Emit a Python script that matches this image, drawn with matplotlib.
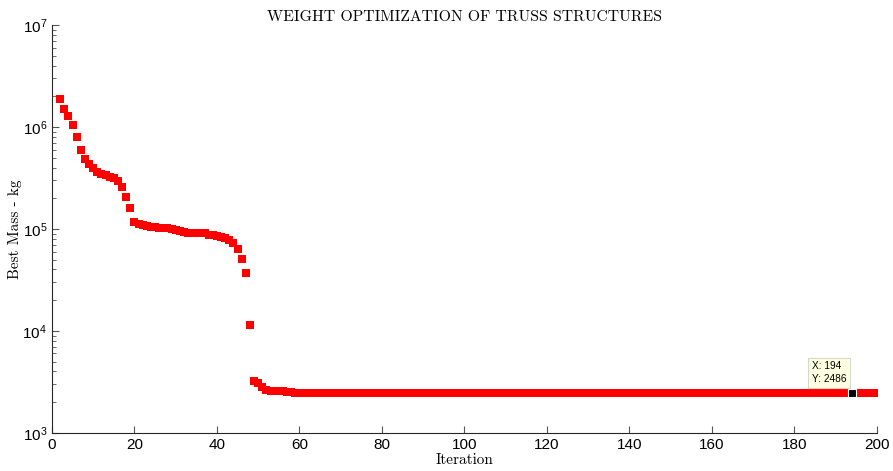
import numpy as np
import matplotlib
matplotlib.use('Agg')
import matplotlib.pyplot as plt

# best mass per iteration
iter_start = [2, 3, 4, 5, 6, 7, 8, 9, 10, 11, 12, 13, 14, 15, 16, 17, 18, 19, 20,
              21, 22, 23, 24, 25, 26, 27, 28, 29, 30, 31, 32, 33, 34, 35, 36, 37, 38,
              39, 40, 41, 42, 43, 44, 45, 46, 47, 48, 49, 50, 51, 52, 53, 54, 55, 56,
              57, 58]
mass_start = [1.9e6, 1.5e6, 1.27e6, 1.05e6, 8.0e5, 6.0e5, 4.9e5, 4.3e5, 4.0e5, 3.6e5,
              3.45e5, 3.35e5, 3.25e5, 3.15e5, 2.95e5, 2.6e5, 2.05e5, 1.6e5, 1.17e5,
              1.12e5, 1.09e5, 1.07e5, 1.05e5, 1.04e5, 1.03e5, 1.02e5, 1.01e5, 1.0e5,
              9.8e4, 9.6e4, 9.3e4, 9.2e4, 9.15e4, 9.1e4, 9.1e4, 9.05e4, 8.8e4, 8.7e4,
              8.6e4, 8.4e4, 8.2e4, 7.7e4, 7.2e4, 6.4e4, 5.1e4, 3.7e4, 1.15e4, 3.2e3,
              3.1e3, 2.8e3, 2.65e3, 2.6e3, 2.58e3, 2.56e3, 2.55e3, 2.54e3, 2.52e3]
iter_plateau = list(range(59, 201))
mass_plateau = [2486] * len(iter_plateau)

iterations = iter_start + iter_plateau
best_mass = mass_start + mass_plateau

tip_x = 194
tip_y = 2486

fig = plt.figure(figsize=(8.93, 4.71), dpi=100)
ax = fig.add_axes([0.0582, 0.081, 0.9238, 0.866])

ax.plot(iterations, best_mass, 's', color='red', markersize=6, markeredgewidth=0)
ax.plot([tip_x], [tip_y], 's', color='black', markersize=6, markeredgewidth=0.8,
        markeredgecolor='white')

ax.set_yscale('log')
ax.set_xlim(0, 200)
ax.set_ylim(1e3, 1e7)
ax.set_xticks(range(0, 201, 20))

for s in ['top', 'right']:
    ax.spines[s].set_visible(False)
for s in ['left', 'bottom']:
    ax.spines[s].set_color('#262626')
ax.tick_params(which='both', direction='in', color='#555555')
ax.tick_params(which='major', length=5, labelsize=11)
ax.tick_params(which='minor', length=3)
for lbl in ax.get_xticklabels() + ax.get_yticklabels():
    lbl.set_family('Liberation Sans')

ax.set_title('WEIGHT OPTIMIZATION OF TRUSS STRUCTURES', family='cmr10', fontsize=11.3, pad=3)
ax.set_xlabel('Iteration', family='cmr10', fontsize=11, labelpad=1)
ax.set_ylabel('Best Mass - kg', family='cmr10', fontsize=11)
ax.yaxis.set_label_coords(-0.036, 0.5)

ax.annotate('X: 194\nY: 2486', xy=(tip_x, tip_y), xytext=(-29, 6), textcoords='offset points',
            fontsize=7.3, family='Liberation Sans', va='bottom', ha='left', linespacing=1.35,
            bbox=dict(boxstyle='square,pad=0.35', fc='#ffffe1', ec='#d8d8c8', lw=0.8))

fig.savefig('out.png', dpi=100)
